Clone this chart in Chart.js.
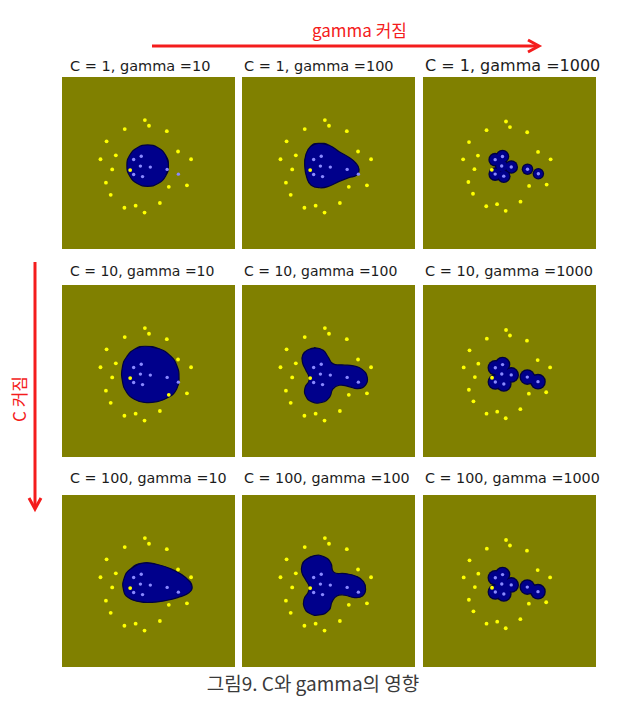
<!DOCTYPE html>
<html>
<head>
<meta charset="utf-8">
<script src="https://cdn.jsdelivr.net/npm/chart.js@4.4.0/dist/chart.umd.min.js"></script>
<style>
body { margin: 0; background: #fff; width: 643px; height: 713px; position: relative; overflow: hidden;
       font-family: "DejaVu Sans", "Noto Sans CJK KR", sans-serif; }
.panel { position: absolute; background: #808000; }
.title { position: absolute; color: #1c1c1c; white-space: nowrap; line-height: 18px; }
.red { position: absolute; color: #f41c1c; font-family: "Noto Sans CJK KR", sans-serif; font-size: 17px; white-space: nowrap; line-height: 20px; }
.caption { position: absolute; left: 0; width: 626px; top: 671px; text-align: center; font-size: 19px; color: #3a3a3a;
           font-family: "Noto Sans CJK KR", sans-serif; line-height: 24px; }
</style>
</head>
<body>
<svg width="643" height="713" style="position:absolute;left:0;top:0">
  <line x1="152" y1="46" x2="536" y2="46" stroke="#f41c1c" stroke-width="3"/>
  <polyline points="528,40 539,46 528,52" fill="none" stroke="#f41c1c" stroke-width="3"/>
  <line x1="35" y1="262" x2="35" y2="507" stroke="#f41c1c" stroke-width="3"/>
  <polyline points="29,498 35,509 41,498" fill="none" stroke="#f41c1c" stroke-width="3"/>
</svg>
<div class="red" style="left:312px;top:20px">gamma 커짐</div>
<div class="red" style="left:-8px;top:385px;transform:rotate(-90deg);transform-origin:27px 10px">C 커짐</div>
<div class="caption">그림9. C와 gamma의 영향</div>

<script>
// grid of panels: rows = C, columns = gamma
const cValues = [1, 10, 100];
const gammaValues = [10, 100, 1000];

// training points, panel coordinates 0..100 (x right, y up)
const yellowX = [47.8, 50.3, 35.6, 61.1, 24.6, 67.9, 30.2, 20.9, 75.8, 28.0, 38.9, 62.3, 73.3, 24.2, 27.1, 56.9, 42.2, 35.4, 47.6];
const yellowY = [76.2, 72.7, 70.7, 69.4, 63.2, 57.0, 54.7, 52.3, 52.3, 46.1, 45.7, 35.5, 36.4, 38.0, 30.6, 25.6, 24.0, 22.7, 19.8];
const blueX = [45.6, 41.0, 45.1, 51.1, 61.3, 41.0, 46.4, 68.1];
const blueY = [54.1, 52.1, 48.1, 47.5, 46.1, 43.0, 41.7, 43.2];

// decision region outlines
const regionC1G10 = [[62.1,48.4],[60.4,54.7],[55.8,59.3],[49.5,61.0],[43.2,59.3],[38.6,54.7],[36.9,48.4],
  [38.6,42.1],[43.2,37.5],[49.5,35.8],[55.8,37.5],[60.4,42.1]];
const regionC1G100 = [[43.9,62.0],[50.7,60.7],[56.5,56.8],[62.3,53.5],[66.5,50.0],[68.5,46.1],[67.1,42.6],
  [62.3,41.1],[56.5,38.8],[50.7,36.0],[44.9,34.9],[39.5,36.4],[36.8,41.3],[35.6,48.1],[36.2,54.8],[39.1,60.1]];
const regionC10G10 = [[47.8,65.1],[56.5,63.6],[63.2,59.3],[67.1,53.5],[68.5,45.7],[67.1,39.0],[62.3,34.1],
  [54.5,31.2],[47.8,30.8],[41.4,32.8],[36.8,37.0],[34.2,43.8],[34.2,52.5],[36.8,58.7],[42.0,63.6]];
const regionC10G100 = [[37.1,62.6],[42.0,64.1],[46.8,62.6],[49.7,58.7],[52.6,54.5],[58.4,53.7],[65.2,53.1],
  [70.4,51.0],[73.5,46.1],[72.3,41.3],[67.7,39.3],[62.3,40.5],[56.5,41.3],[52.6,39.0],[50.7,34.1],[45.8,30.8],
  [40.0,31.2],[36.2,34.7],[35.8,39.9],[38.1,43.8],[38.1,46.7],[36.2,50.6],[34.2,55.4],[34.4,59.9]];
const regionC100G10 = [[46.4,60.9],[56.1,59.9],[64.8,56.8],[72.5,52.1],[76.4,46.7],[74.5,42.8],[67.7,39.9],
  [60.0,38.0],[52.2,37.0],[44.5,37.4],[37.7,39.9],[34.8,44.8],[35.2,51.6],[38.7,57.0]];
const regionC100G100 = [[35.8,62.6],[41.6,65.5],[47.4,64.7],[51.3,61.2],[53.2,55.4],[60.0,54.5],[66.7,52.9],
  [71.2,49.6],[72.5,44.8],[70.6,40.9],[65.8,39.9],[60.0,41.3],[55.1,40.9],[52.2,37.4],[50.3,32.2],[44.5,29.3],
  [38.7,30.2],[35.2,34.1],[35.2,39.0],[37.7,43.2],[38.3,46.7],[36.2,50.6],[33.8,55.4],[34.0,59.9]];

const regions = [
  [regionC1G10, regionC1G100, null],
  [regionC10G10, regionC10G100, null],
  [regionC100G10, regionC100G100, null]
];

// layout
const colLeft = [62, 242, 423];
const rowTop = [77, 285, 495];
const titleLeft = [70, 244, 425];
const titleTop = [57, 262, 469];
const titleSize = [[14.5, 14.5, 16], [14, 14, 14.5], [14.3, 14.3, 14.3]];
const PW = 173, PH = 172;

const NAVY = '#00008b', EDGE = '#000040';

function pts(xs, ys) { return xs.map((x, i) => ({ x: x, y: ys[i] })); }
// wrap the outline so the smoothed curve has no corner where it closes
function closed(poly) {
  const n = poly.length;
  const seq = [poly[n - 1]].concat(poly, [poly[0], poly[1]]);
  return seq.map(d => ({ x: d[0], y: d[1] }));
}

function buildDatasets(row, col) {
  const ds = [
    { data: pts(blueX, blueY), pointRadius: 1.7, pointBackgroundColor: '#8a8aff', pointBorderWidth: 0, order: 0 },
    { data: pts(yellowX, yellowY), pointRadius: 1.9, pointBackgroundColor: '#ffff00', pointBorderWidth: 0, order: 1 }
  ];
  const poly = regions[row][col];
  if (poly) {
    ds.push({ data: closed(poly), showLine: true, fill: 'shape', tension: 0.5, pointRadius: 0,
      backgroundColor: NAVY, borderColor: EDGE, borderWidth: 1.2, order: 3 });
  } else {
    // gamma = 1000: small blobs around each support vector
    const inner = row === 0 ? 5.5 : 6.5;
    const outer = row === 0 ? 4.5 : 6.5;
    const rad = ctx => (ctx.dataIndex === 4 || ctx.dataIndex === 7) ? outer : inner;
    ds.push({ data: pts(blueX, blueY), pointRadius: rad, pointBackgroundColor: NAVY, pointBorderWidth: 0, order: 3 });
    ds.push({ data: pts(blueX, blueY), pointRadius: ctx => rad(ctx) + 1.3, pointBackgroundColor: EDGE, pointBorderWidth: 0, order: 6 });
    if (row > 0) {
      const neck = [{ x: blueX[4], y: blueY[4] }, { x: blueX[7], y: blueY[7] }];
      ds.push({ data: neck, showLine: true, pointRadius: 0, borderColor: NAVY, borderWidth: 8, order: 4 });
      ds.push({ data: neck, showLine: true, pointRadius: 0, borderColor: EDGE, borderWidth: 10.5, order: 7 });
    }
  }
  return ds;
}

cValues.forEach((c, row) => {
  gammaValues.forEach((g, col) => {
    const t = document.createElement('div');
    t.className = 'title';
    t.style.left = titleLeft[col] + 'px';
    t.style.top = titleTop[row] + 'px';
    t.style.fontSize = titleSize[row][col] + 'px';
    t.textContent = 'C = ' + c + ', gamma =' + g;
    document.body.appendChild(t);

    const cv = document.createElement('canvas');
    cv.className = 'panel';
    cv.width = PW; cv.height = PH;
    cv.style.left = colLeft[col] + 'px';
    cv.style.top = rowTop[row] + 'px';
    document.body.appendChild(cv);

    new Chart(cv, {
      type: 'scatter',
      data: { datasets: buildDatasets(row, col) },
      options: {
        responsive: false,
        animation: false,
        layout: { padding: 0 },
        plugins: { legend: { display: false }, tooltip: { enabled: false } },
        scales: {
          x: { type: 'linear', min: 0, max: 100, display: false },
          y: { type: 'linear', min: 0, max: 100, display: false }
        }
      }
    });
  });
});
</script>
</body>
</html>
